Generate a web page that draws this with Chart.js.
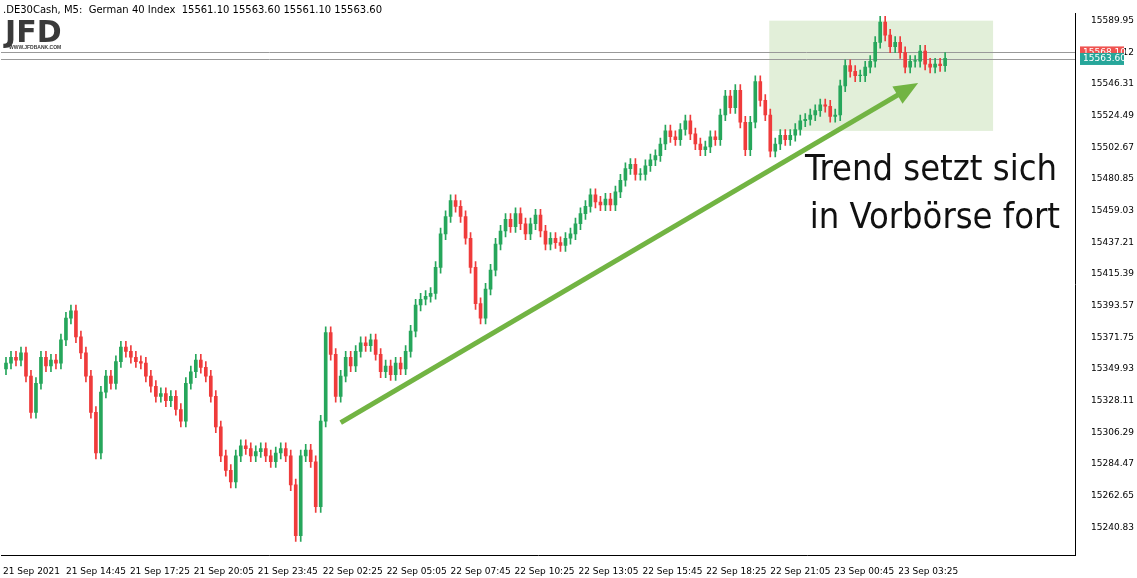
<!DOCTYPE html>
<html><head><meta charset="utf-8">
<script src="https://cdn.jsdelivr.net/npm/chart.js@4"></script>
<style>body{margin:0;background:#fff}#w{width:1137px;height:578px;position:relative}</style>
</head><body><div id="w"><canvas id="c"></canvas></div>
<script>
const closes=[15354,15358,15356,15361,15345,15320,15340,15358,15352,15356,15354,15370,15385,15390,15372,15361,15345,15320,15292,15334,15345,15340,15355,15365,15362,15358,15355,15354,15345,15338,15331,15333,15328,15331,15322,15314,15340,15348,15356,15351,15345,15331,15310,15290,15280,15272,15290,15297,15295,15290,15293,15295,15290,15286,15292,15295,15290,15270,15235,15290,15294,15286,15255,15314,15375,15360,15331,15345,15358,15352,15362,15368,15366,15370,15360,15348,15352,15346,15354,15350,15362,15376,15394,15398,15400,15402,15420,15443,15455,15466,15462,15455,15440,15420,15395,15385,15405,15418,15436,15445,15453,15448,15457,15450,15443,15450,15456,15445,15436,15440,15437,15435,15440,15443,15450,15457,15462,15470,15465,15463,15467,15463,15472,15480,15488,15491,15484,15484,15490,15494,15497,15505,15514,15510,15508,15515,15521,15512,15505,15501,15503,15510,15508,15525,15538,15530,15542,15520,15501,15520,15548,15535,15525,15500,15505,15511,15508,15511,15515,15521,15522,15525,15528,15532,15531,15524,15525,15545,15559,15555,15552,15552,15558,15562,15575,15589,15580,15572,15575,15568,15558,15562,15562,15569,15560,15558,15560,15559,15564];
const firstOpen=15350;
const yTicks=[15589.95,15568.12,15546.31,15524.49,15502.67,15480.85,15459.03,15437.21,15415.39,15393.57,15371.75,15349.93,15328.11,15306.29,15284.47,15262.65,15240.83];
const xTickPos=[2,65,129,193,257,322,386,450,514,578,642,706,770,834,898];
const xTickLabels=['21 Sep 2021','21 Sep 14:45','21 Sep 17:25','21 Sep 20:05','21 Sep 23:45','22 Sep 02:25','22 Sep 05:05','22 Sep 07:45','22 Sep 10:25','22 Sep 13:05','22 Sep 15:45','22 Sep 18:25','22 Sep 21:05','23 Sep 00:45','23 Sep 03:25'];
const bid=15563.60, ask=15568.10;

const bodies=[],wicks=[],cols=[];
closes.forEach((c,i)=>{const o=i?closes[i-1]:firstOpen;const x=5+i*5;
 bodies.push({x,y:[o,c===o?c+0.5:c]});wicks.push({x,y:[Math.min(o,c)-4,Math.max(o,c)+4]});
 cols.push(c>=o?'#26a65b':'#ef3b3b');});

const overlay={id:'ov',
 beforeDatasetsDraw(ch){const {ctx,scales:{x,y}}=ch;ctx.save();
  ctx.fillStyle='#e2efd9';const bx=x.getPixelForValue(769),bx2=x.getPixelForValue(993),by=y.getPixelForValue(15590),by2=y.getPixelForValue(15514);
  ctx.fillRect(bx,by,bx2-bx,by2-by);
  ctx.strokeStyle='#999';ctx.lineWidth=1;[ask,bid].forEach(p=>{const yy=Math.round(y.getPixelForValue(p))+0.5;ctx.beginPath();ctx.moveTo(ch.chartArea.left,yy);ctx.lineTo(ch.chartArea.right,yy);ctx.stroke();});
  ctx.restore();},
 afterDatasetsDraw(ch){const {ctx,scales:{x,y},chartArea:a}=ch;ctx.save();
  const x1=x.getPixelForValue(340),y1=y.getPixelForValue(15313),x2=x.getPixelForValue(918),y2=y.getPixelForValue(15547);
  const ang=Math.atan2(y2-y1,x2-x1);
  ctx.strokeStyle='#72b443';ctx.fillStyle='#72b443';ctx.lineWidth=5;ctx.beginPath();ctx.moveTo(x1,y1);ctx.lineTo(x2-18*Math.cos(ang),y2-18*Math.sin(ang));ctx.stroke();
  ctx.beginPath();ctx.moveTo(x2,y2);ctx.lineTo(x2-24*Math.cos(ang)+10*Math.sin(ang),y2-24*Math.sin(ang)-10*Math.cos(ang));ctx.lineTo(x2-24*Math.cos(ang)-10*Math.sin(ang),y2-24*Math.sin(ang)+10*Math.cos(ang));ctx.closePath();ctx.fill();
  ctx.fillStyle='#111';ctx.font='36px "DejaVu Sans Condensed", Lato, sans-serif';ctx.textAlign='right';ctx.textBaseline='alphabetic';
  ctx.fillText('Trend setzt sich',1057,180);ctx.fillText('in Vorbörse fort',1060,228);
  ctx.textAlign='left';ctx.font='10px "DejaVu Sans", sans-serif';ctx.fillStyle='#000';
  ctx.fillText('.DE30Cash, M5:  German 40 Index  15561.10 15563.60 15561.10 15563.60',3,13);
  ctx.font='bold 30px "DejaVu Sans", sans-serif';ctx.fillStyle='#3a3a3a';ctx.fillText('JFD',5,42);
  ctx.font='bold 5px sans-serif';ctx.fillText('WWW.JFDBANK.COM',9,49);
  const r=a.right;[[ask,'#ef5350'],[bid,'#26a69a']].forEach(([p,c])=>{const yy=y.getPixelForValue(p);ctx.fillStyle=c;ctx.fillRect(r+5,yy-6,44,12);ctx.fillStyle='#fff';ctx.font='9px "DejaVu Sans", sans-serif';ctx.textBaseline='middle';ctx.fillText(p.toFixed(2),r+8,yy);});
  ctx.restore();}
};

new Chart(document.getElementById('c'),{type:'bar',
 data:{datasets:[
  {data:wicks,backgroundColor:cols,barThickness:1,grouped:false,order:2},
  {data:bodies,backgroundColor:cols,barThickness:3,grouped:false,order:1}]},
 options:{responsive:true,maintainAspectRatio:false,animation:false,
  layout:{padding:{left:0,right:0,top:0,bottom:0}},
  plugins:{legend:{display:false},tooltip:{enabled:false}},
  scales:{
   x:{type:'linear',offset:false,bounds:'data',min:0,max:1075,grid:{display:false,offset:false},border:{color:'#000'},
     afterBuildTicks(s){s.ticks=xTickPos.map(v=>({value:v}));},
     afterFit(s){s.height=23;},
     ticks:{autoSkip:false,maxRotation:0,align:'start',color:'#000',font:{size:9,family:'DejaVu Sans'},padding:3,callback:(v)=>xTickLabels[xTickPos.indexOf(v)]}},
   y:{position:'right',min:15221.7,max:15595,grid:{display:false},border:{color:'#000'},
     afterBuildTicks(s){s.ticks=yTicks.map(v=>({value:v}));},
     afterFit(s){s.width=62;},
     ticks:{autoSkip:false,color:'#000',font:{size:9,family:'DejaVu Sans'},padding:8,callback:v=>v.toFixed(2)}}
  }},
 plugins:[overlay]});
</script></body></html>
